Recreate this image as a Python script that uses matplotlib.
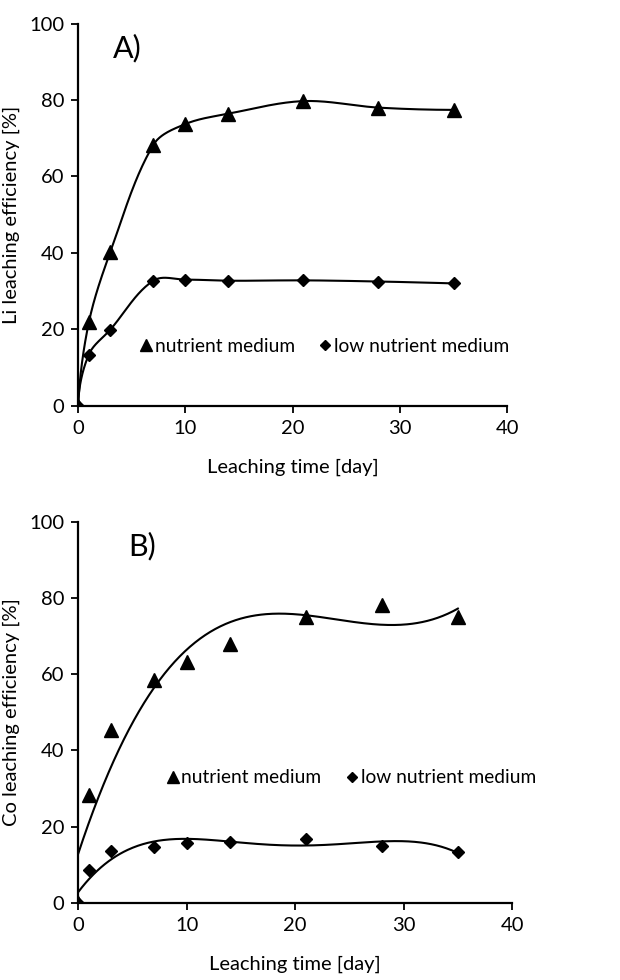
"""
Li and Co leaching efficiency over time, two stacked panels.
"""
import matplotlib
matplotlib.use("Agg")
import matplotlib.pyplot as plt
import numpy as np

plt.rcParams['font.family'] = ['Lato', 'DejaVu Sans']

days = [0, 1, 3, 7, 10, 14, 21, 28, 35]

li_nutrient = [0, 21.8, 40.2, 68.2, 73.7, 76.4, 79.7, 78.0, 77.4]
li_low = [0, 13.4, 19.9, 32.7, 33.0, 32.7, 32.8, 32.5, 32.0]

co_nutrient = [0, 28.3, 45.5, 58.4, 63.3, 67.9, 75.1, 78.1, 75.1]
co_low = [0, 8.6, 13.6, 14.7, 15.7, 16.0, 16.9, 14.9, 13.4]

series_labels = ['nutrient medium', 'low nutrient medium']
panel_tags = ['A)', 'B)']
ylabels = ['Li leaching efficiency [%]', 'Co leaching efficiency [%]']


def smooth_line(ax, x, y, n=40):
    # bezier smoothing in screen space: tangent along the neighbour chord,
    # handles a third of each segment
    pts = ax.transData.transform(np.column_stack([x, y]))
    seg = np.diff(pts, axis=0)
    seglen = np.linalg.norm(seg, axis=1)
    unit = seg / seglen[:, None]
    tang = np.zeros_like(pts)
    for i in range(1, len(pts) - 1):
        v = pts[i + 1] - pts[i - 1]
        tang[i] = v / np.linalg.norm(v)
    v = 2 * unit[0] - tang[1]
    tang[0] = v / np.linalg.norm(v)
    v = 2 * unit[-1] - tang[-2]
    tang[-1] = v / np.linalg.norm(v)
    t = np.linspace(0, 1, n)[:, None]
    out = []
    for i in range(len(pts) - 1):
        p0, p3 = pts[i], pts[i + 1]
        c1 = p0 + tang[i] * seglen[i] / 3
        c2 = p3 - tang[i + 1] * seglen[i] / 3
        out.append((1 - t) ** 3 * p0 + 3 * (1 - t) ** 2 * t * c1 + 3 * (1 - t) * t ** 2 * c2 + t ** 3 * p3)
    curve = ax.transData.inverted().transform(np.vstack(out))
    return curve[:, 0], curve[:, 1]


def poly_line(x, y, deg):
    coef = np.polyfit(x, y, deg)
    xs = np.linspace(min(x), max(x), 300)
    return xs, np.polyval(coef, xs)


fig = plt.figure(figsize=(6.2, 9.8), dpi=100)
ax1 = fig.add_axes([0.126, 0.586, 0.692, 0.390])
ax2 = fig.add_axes([0.126, 0.0786, 0.700, 0.389])

settings = [(ax1, li_nutrient, li_low, panel_tags[0], ylabels[0], 3.2, 0.145, 0.155),
            (ax2, co_nutrient, co_low, panel_tags[1], ylabels[1], 4.6, 0.205, 0.328)]

for ax, nut, low, tag, ylab, tagx, legx, legy in settings:
    ax.set_xlim(0, 40)
    ax.set_ylim(0, 100)
    ax.plot(days, nut, '^', color='black', ms=10, ls='none', label=series_labels[0], zorder=3)
    ax.plot(days, low, 'D', color='black', ms=6.5, ls='none', label=series_labels[1], zorder=3)
    ax.set_xticks([0, 10, 20, 30, 40])
    ax.set_yticks([0, 20, 40, 60, 80, 100])
    for s in ['top', 'right']:
        ax.spines[s].set_visible(False)
    for s in ['left', 'bottom']:
        ax.spines[s].set_linewidth(1.6)
    ax.tick_params(axis='both', direction='out', length=5, width=1.3, labelsize=14.5, pad=5)
    ax.set_xlabel('Leaching time [day]', fontsize=14.5, labelpad=16)
    ax.set_ylabel(ylab, fontsize=14.5)
    ax.yaxis.set_label_coords(-0.135, 0.5)
    ax.text(tagx, 93.5, tag, fontsize=22, va='center')
    ax.legend(loc='center left', bbox_to_anchor=(legx, legy), ncol=2, frameon=False,
              fontsize=13.8, markerscale=0.85, handlelength=0.6, handletextpad=0.15,
              columnspacing=1.3, borderaxespad=0, borderpad=0)
    for sp in ax.spines.values():
        sp.set_clip_on(False)

# panel A: smoothed lines through points
xs, ys = smooth_line(ax1, days, li_nutrient)
ax1.plot(xs, ys, color='black', lw=1.5)
xs, ys = smooth_line(ax1, days, li_low)
ax1.plot(xs, ys, color='black', lw=1.5)

# panel B: polynomial trend lines
xs, ys = poly_line(days, co_nutrient, 3)
ax2.plot(xs, ys, color='black', lw=1.5)
xs, ys = poly_line(days, co_low, 4)
ax2.plot(xs, ys, color='black', lw=1.5)

fig.savefig('out.png', dpi=100)
